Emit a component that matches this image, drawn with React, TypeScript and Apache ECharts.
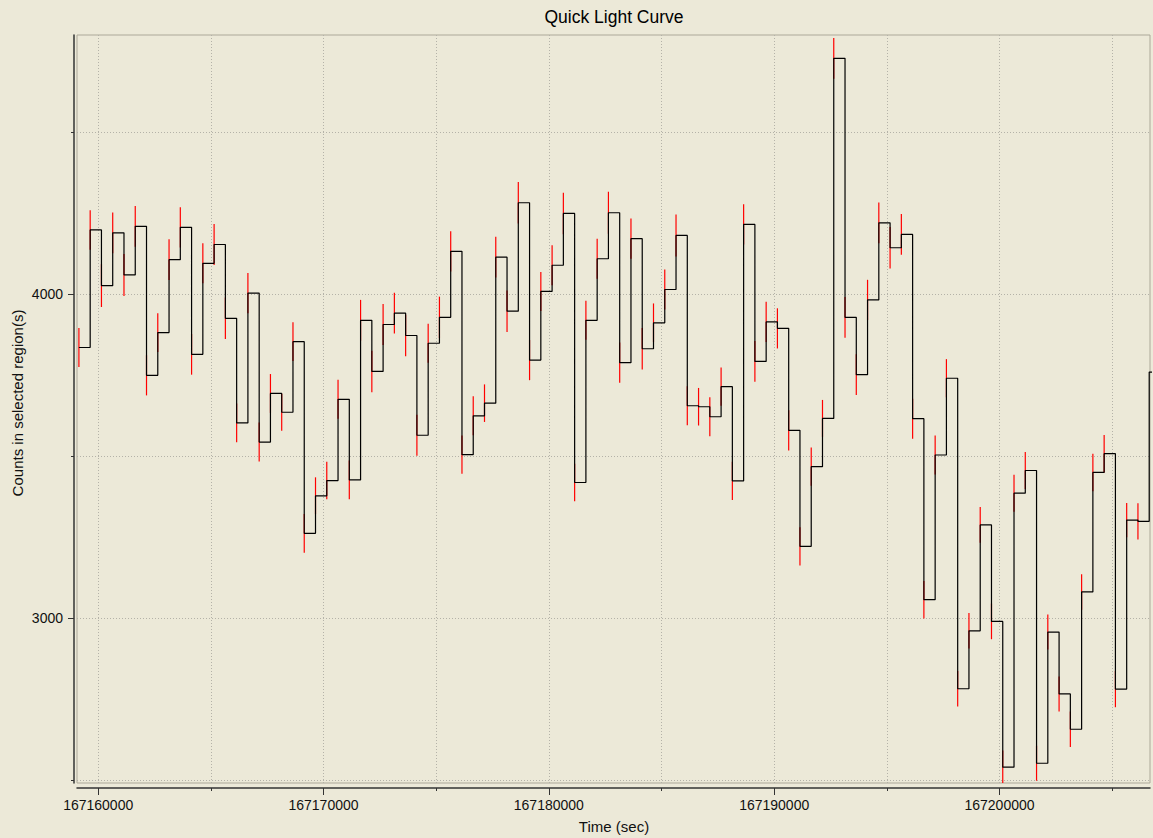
import React, { useEffect, useRef } from "react";
import * as echarts from "echarts";

// ---- data ----
const binStart = 167159145; // start time of first bin (sec)
const binWidth = 500; // bin size (sec)

const counts = [
  3835, 4198, 4026, 4189, 4059, 4209, 3749, 3881, 4106, 4206,
  3814, 4095, 4153, 3925, 3602, 4003, 3543, 3693, 3635, 3853,
  3261, 3377, 3424, 3675, 3426, 3919, 3761, 3906, 3941, 3872,
  3564, 3848, 3928, 4132, 3504, 3624, 3663, 4114, 3947, 4282,
  3796, 4008, 4089, 4249, 3418, 3919, 4109, 4251, 3788, 4171,
  3831, 3911, 4014, 4181, 3655, 3652, 3621, 3714, 3423, 4215,
  3792, 3914, 3894, 3579, 3221, 3467, 3616, 4728, 3928, 3751,
  3982, 4220, 4143, 4184, 3615, 3056, 3503, 3740, 2781, 2960,
  3287, 2989, 2539, 3385, 3455, 2551, 2956, 2765, 2656, 3080,
  3449, 3507, 2780, 3302, 3298, 3759,
];

// error bars (the last, partial bin has none drawn)
const errors = [
  60, 61, 66, 63, 65, 63, 62, 60, 63, 62,
  63, 62, 63, 64, 60, 62, 60, 60, 57, 60,
  60, 57, 58, 60, 60, 63, 64, 63, 63, 64,
  63, 60, 64, 62, 59, 60, 58, 63, 64, 64,
  62, 60, 62, 64, 58, 60, 62, 65, 62, 62,
  64, 60, 62, 65, 60, 58, 60, 59, 59, 62,
  63, 62, 62, 62, 59, 59, 57, 63, 63, 63,
  62, 63, 64, 63, 62, 58, 60, 59, 55, 55,
  55, 55, 51, 57, 57, 54, 54, 54, 55, 55,
  58, 58, 56, 53, 56,
];

const xRange = [167159060, 167206680];
const yRange = [2490, 4800];
const xMinorTicks = [
  167160000, 167165000, 167170000, 167175000, 167180000,
  167185000, 167190000, 167195000, 167200000, 167205000,
];
const xMajorTicks = [167160000, 167170000, 167180000, 167190000, 167200000];
const yMinorTicks = [2500, 3000, 3500, 4000, 4500];
const yMajorTicks = [3000, 4000];

const titleText = "Quick Light Curve";
const xName = "Time (sec)";
const yName = "Counts in selected region(s)";

const FONT = "'Liberation Sans', Arial, sans-serif";
const BG = "#ECE9D8";

export default function App() {
  const ref = useRef<HTMLDivElement>(null);

  useEffect(() => {
    if (!ref.current) return;
    const chart = echarts.init(ref.current, null, { renderer: "svg" });

    const stepData = counts.map((c, i) => [binStart + i * binWidth, c]);
    stepData.push([binStart + counts.length * binWidth, counts[counts.length - 1]]);
    const errData = errors.map((e, i) => [binStart + i * binWidth, counts[i] - e, counts[i] + e]);

    const gridLine = { show: true, lineStyle: { color: "#b4b2a8", width: 1, type: [1, 2] as any } };
    const plain = (v: number) => String(Math.round(v));

    chart.setOption({
      animation: false,
      backgroundColor: BG,
      grid: {
        left: 77,
        top: 35,
        right: 3,
        bottom: 55,
        show: true,
        backgroundColor: BG,
        borderColor: "#aca899",
        borderWidth: 1,
      },
      xAxis: [
        {
          type: "value",
          min: xRange[0],
          max: xRange[1],
          position: "bottom",
          offset: 5,
          axisLine: { show: true, lineStyle: { color: "#333", width: 1.5 } },
          axisTick: { show: true, customValues: xMinorTicks, length: 3, lineStyle: { color: "#333" } },
          axisLabel: { show: false },
          splitLine: gridLine,
        },
        {
          type: "value",
          min: xRange[0],
          max: xRange[1],
          position: "bottom",
          offset: 5,
          axisLine: { show: false },
          axisTick: { show: true, customValues: xMajorTicks, length: 7, lineStyle: { color: "#333" } },
          axisLabel: {
            show: true,
            customValues: xMajorTicks,
            formatter: plain,
            margin: 10,
            fontSize: 14,
            fontFamily: FONT,
            color: "#111",
          },
          splitLine: { show: false },
        },
      ],
      yAxis: [
        {
          type: "value",
          min: yRange[0],
          max: yRange[1],
          position: "left",
          offset: 3,
          axisLine: { show: true, lineStyle: { color: "#333", width: 1.5 } },
          axisTick: { show: true, customValues: yMinorTicks, length: 3, lineStyle: { color: "#333" } },
          axisLabel: { show: false },
          splitLine: gridLine,
        },
        {
          type: "value",
          min: yRange[0],
          max: yRange[1],
          position: "left",
          offset: 3,
          axisLine: { show: false },
          axisTick: { show: true, customValues: yMajorTicks, length: 6, lineStyle: { color: "#333" } },
          axisLabel: {
            show: true,
            customValues: yMajorTicks,
            formatter: plain,
            margin: 11,
            fontSize: 14,
            fontFamily: FONT,
            color: "#111",
          },
          splitLine: { show: false },
        },
      ],
      graphic: [
        {
          type: "text",
          x: 614,
          y: 17,
          style: {
            text: titleText,
            fontSize: 17.5,
            fontFamily: FONT,
            fill: "#000",
            align: "center",
            verticalAlign: "middle",
          },
        },
        {
          type: "text",
          x: 614,
          y: 826,
          style: {
            text: xName,
            fontSize: 15,
            fontFamily: FONT,
            fill: "#111",
            align: "center",
            verticalAlign: "middle",
          },
        },
        {
          type: "text",
          x: 17,
          y: 403,
          rotation: Math.PI / 2,
          style: {
            text: yName,
            fontSize: 15,
            fontFamily: FONT,
            fill: "#111",
            align: "center",
            verticalAlign: "middle",
          },
        },
      ],
      series: [
        {
          type: "custom",
          xAxisIndex: 0,
          yAxisIndex: 0,
          clip: true,
          z: 2,
          encode: { x: 0, y: [1, 2] },
          data: errData,
          renderItem: (params: any, api: any) => {
            const x = api.value(0);
            const p1 = api.coord([x, api.value(1)]);
            const p2 = api.coord([x, api.value(2)]);
            return {
              type: "line",
              shape: { x1: p1[0], y1: p1[1], x2: p2[0], y2: p2[1] },
              style: { stroke: "#ff0000", lineWidth: 1.2 },
            };
          },
        },
        {
          type: "line",
          xAxisIndex: 0,
          yAxisIndex: 0,
          step: "end",
          showSymbol: false,
          symbol: "none",
          z: 3,
          clip: true,
          lineStyle: { color: "#000", width: 1.2 },
          data: stepData,
        },
      ],
    });

    return () => chart.dispose();
  }, []);

  return (
    <div
      ref={ref}
      style={{ position: "fixed", left: 0, top: 0, width: 1153, height: 838 }}
    />
  );
}
